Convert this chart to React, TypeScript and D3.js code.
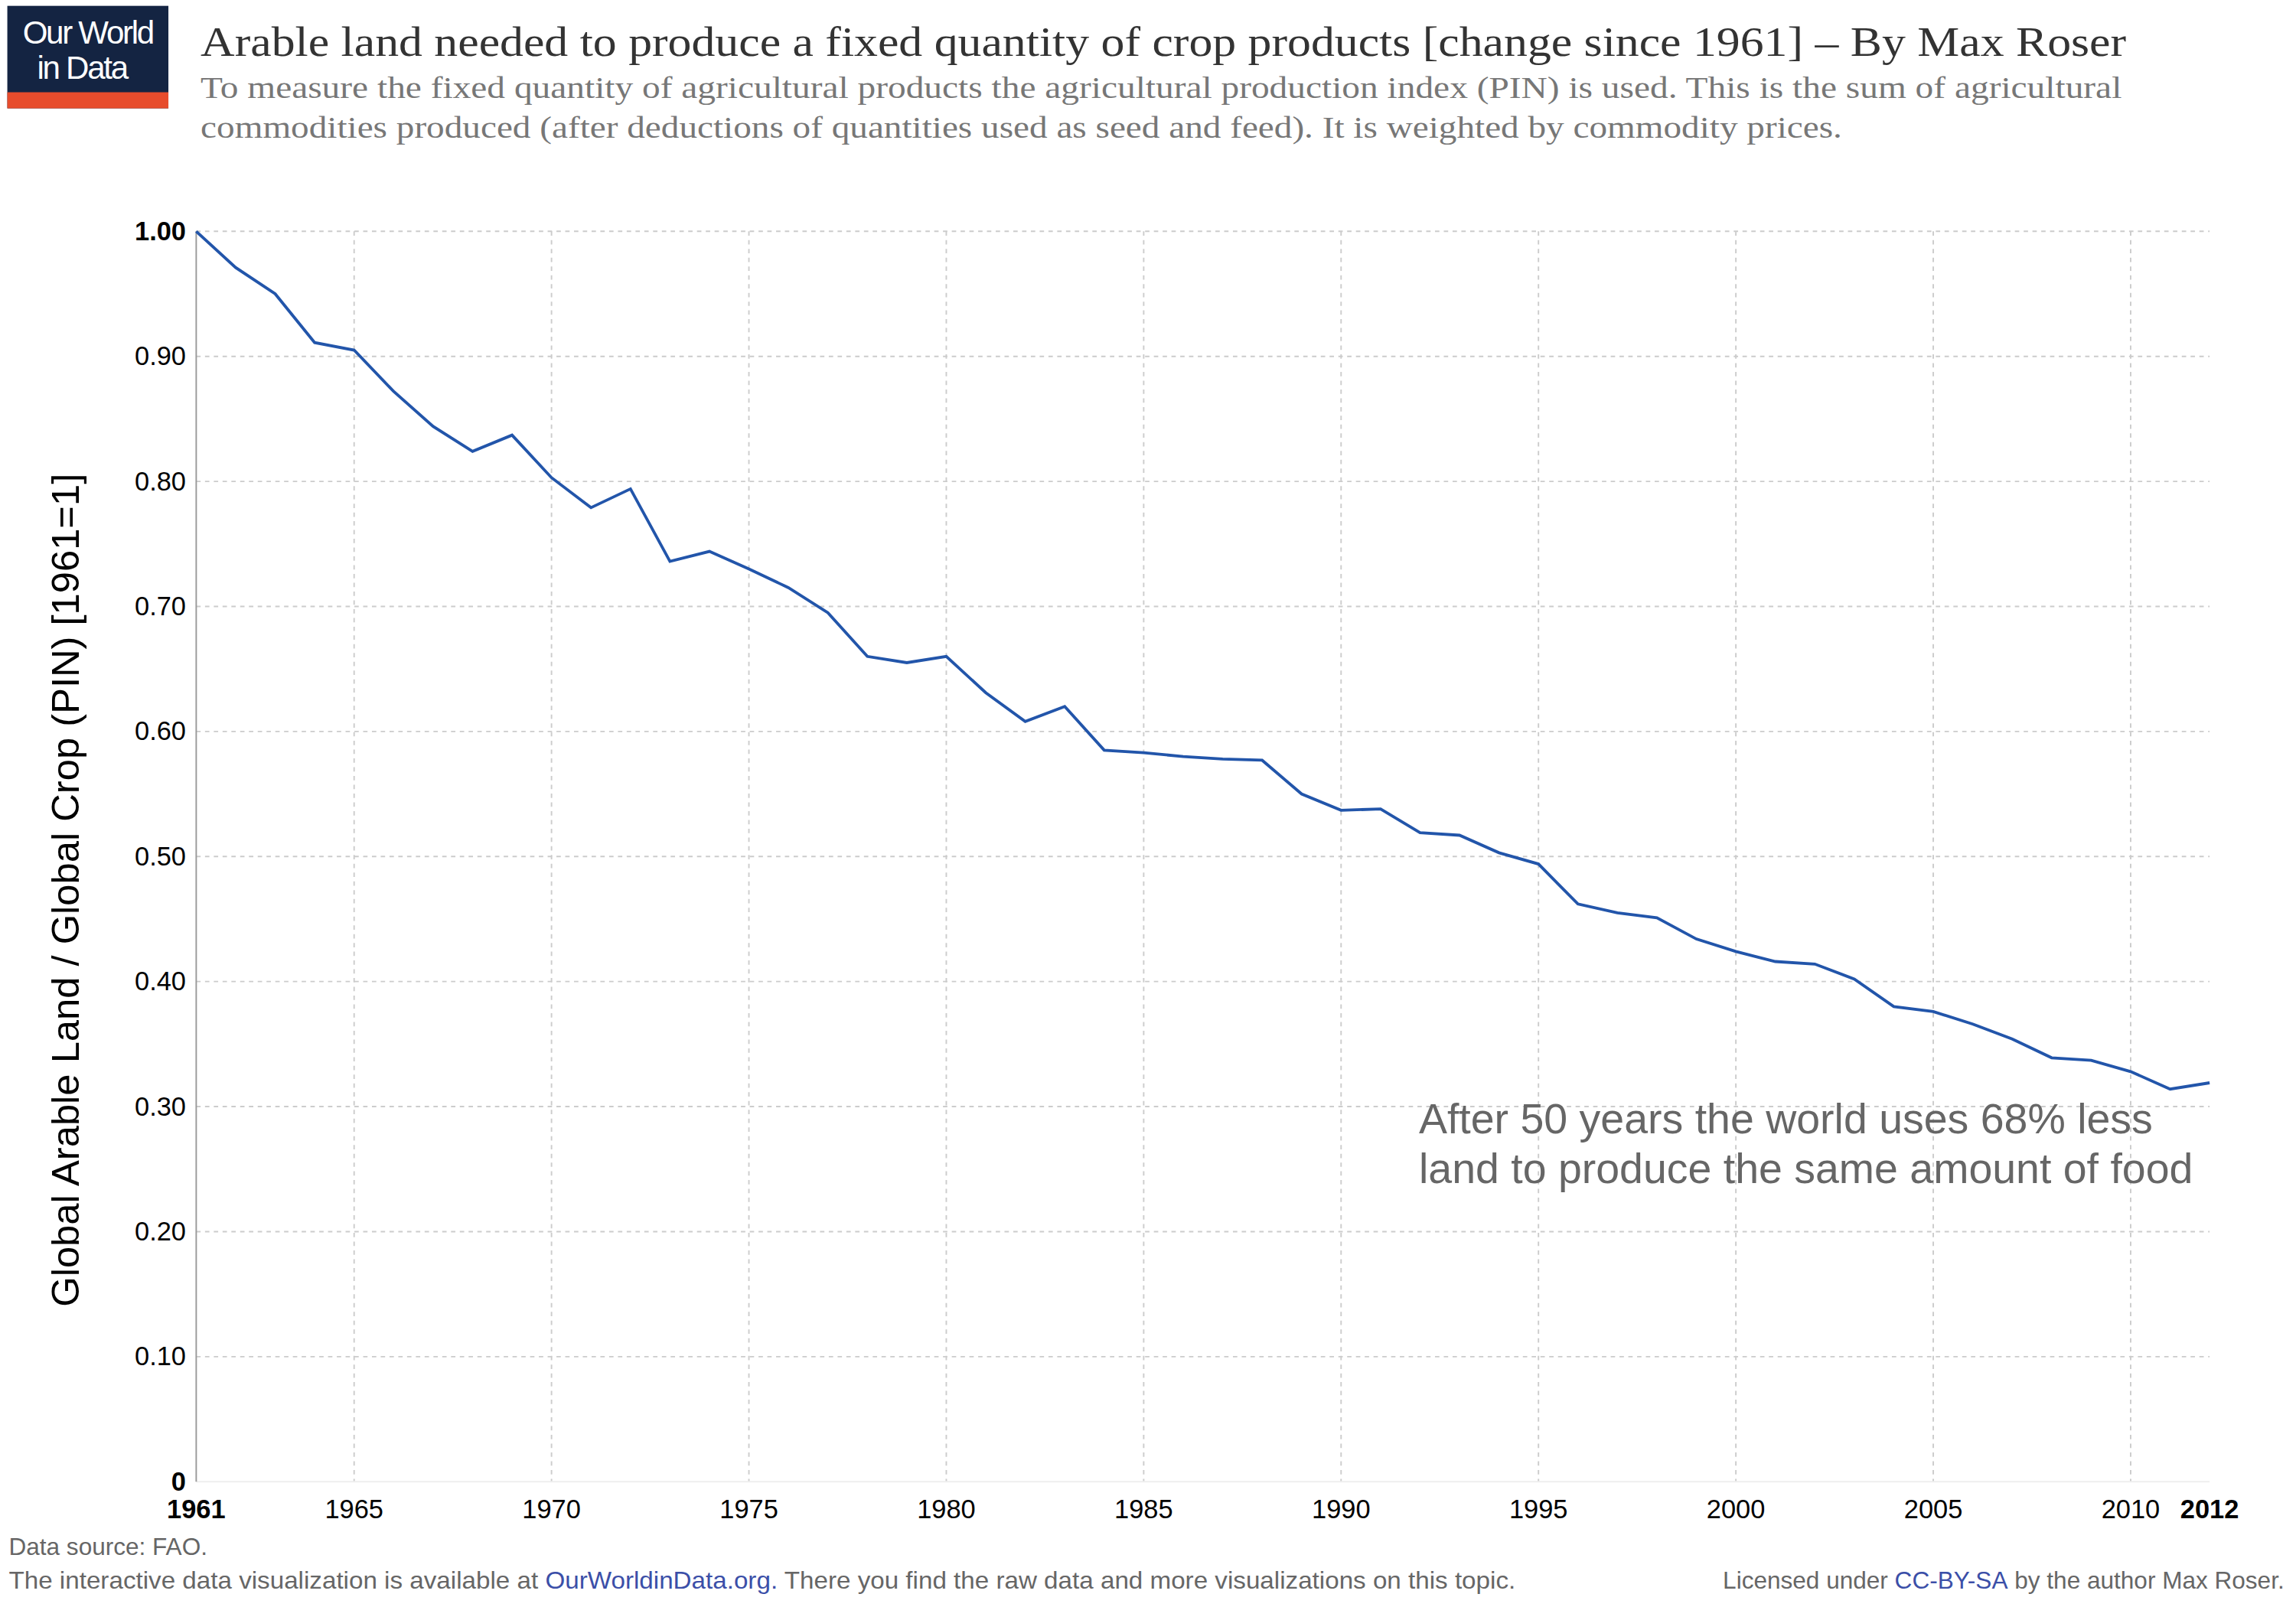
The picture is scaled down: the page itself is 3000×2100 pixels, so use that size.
import React from 'react';
import * as d3 from 'd3';

const years = d3.range(1961, 2013);
const values = [
  1.0, 0.971, 0.95, 0.911, 0.905, 0.872, 0.844, 0.824, 0.837, 0.803,
  0.779, 0.794, 0.736, 0.744, 0.73, 0.715, 0.695, 0.66, 0.655, 0.66,
  0.631, 0.608, 0.62, 0.585, 0.583, 0.58, 0.578, 0.577, 0.55, 0.537,
  0.538, 0.519, 0.517, 0.503, 0.494, 0.462, 0.455, 0.451, 0.434, 0.424,
  0.416, 0.414, 0.402, 0.38, 0.376, 0.366, 0.354, 0.339, 0.337, 0.328,
  0.314, 0.319,
];
const xTicks = [1961, 1965, 1970, 1975, 1980, 1985, 1990, 1995, 2000, 2005, 2010, 2012];
const yTicks = [0, 0.1, 0.2, 0.3, 0.4, 0.5, 0.6, 0.7, 0.8, 0.9, 1.0];

const W = 1568;
const H = 1097.6;
const sans = 'Liberation Sans, Arial, sans-serif';
const serif = 'Liberation Serif, Georgia, serif';

export default function App() {
  const x = d3.scaleLinear().domain([1961, 2012]).range([134, 1509]);
  const y = d3.scaleLinear().domain([0, 1]).range([1012, 158]);
  const line = d3.line<number>().x((_, i) => x(years[i])).y((d) => y(d));
  const bold = (t: number) => t === 1961 || t === 2012;

  return (
    <svg width={3000} height={2100} viewBox={`0 0 ${W} ${H}`}
      style={{ position: 'absolute', top: 0, left: 0, background: '#fff' }}>
      {/* logo */}
      <rect x={5} y={4} width={110} height={70} fill="#142442" />
      <rect x={5} y={63} width={110} height={11} fill="#e74c2c" />
      <text x={60} y={30} textAnchor="middle" fill="#fff" fontFamily={sans} fontSize={22} letterSpacing={-1.2}>Our World</text>
      <text x={56} y={54} textAnchor="middle" fill="#fff" fontFamily={sans} fontSize={22} letterSpacing={-1.2}>in Data</text>

      <text x={137} y={38} fill="#333" fontFamily={serif} fontSize={29} textLength={1315} lengthAdjust="spacingAndGlyphs">
        Arable land needed to produce a fixed quantity of crop products [change since 1961] – By Max Roser
      </text>
      <text x={137} y={67} fill="#777" fontFamily={serif} fontSize={21} textLength={1312} lengthAdjust="spacingAndGlyphs">
        To measure the fixed quantity of agricultural products the agricultural production index (PIN) is used. This is the sum of agricultural
      </text>
      <text x={137} y={94} fill="#777" fontFamily={serif} fontSize={21} textLength={1121} lengthAdjust="spacingAndGlyphs">
        commodities produced (after deductions of quantities used as seed and feed). It is weighted by commodity prices.
      </text>

      {/* grid */}
      {yTicks.filter((t) => t > 0).map((t) => (
        <line key={'gy' + t} x1={134} x2={1509} y1={y(t)} y2={y(t)} stroke="#ccc" strokeDasharray="3,3" />
      ))}
      {xTicks.filter((t) => t !== 1961 && t !== 2012).map((t) => (
        <line key={'gx' + t} x1={x(t)} x2={x(t)} y1={158} y2={1012} stroke="#ccc" strokeDasharray="3,3" />
      ))}
      <line x1={134} x2={1509} y1={1012} y2={1012} stroke="#eee" />
      <line x1={134} x2={134} y1={158} y2={1012} stroke="#999" />

      {yTicks.map((t) => (
        <text key={'ty' + t} x={127} y={y(t) + 6} textAnchor="end" fontFamily={sans} fontSize={18}
          fontWeight={t === 1 || t === 0 ? 'bold' : 'normal'} fill="#000">
          {t === 0 ? '0' : t.toFixed(2)}
        </text>
      ))}
      {xTicks.map((t) => (
        <text key={'tx' + t} x={x(t)} y={1037} textAnchor="middle" fontFamily={sans} fontSize={18}
          fontWeight={bold(t) ? 'bold' : 'normal'} fill="#000">{t}</text>
      ))}

      <text transform="translate(54,608) rotate(-90)" textAnchor="middle" fontFamily={sans} fontSize={26.5} fill="#000">
        Global Arable Land / Global Crop (PIN) [1961=1]
      </text>

      <path d={line(values) ?? ''} fill="none" stroke="#2255aa" strokeWidth={2} />

      <text x={969} y={774} fontFamily={sans} fontSize={29} fill="#666">After 50 years the world uses 68% less</text>
      <text x={969} y={808} fontFamily={sans} fontSize={29} fill="#666">land to produce the same amount of food</text>

      <text x={6} y={1062} fontFamily={sans} fontSize={16.5} fill="#666">Data source: FAO.</text>
      <text x={6} y={1085} fontFamily={sans} fontSize={16.5} fill="#666" textLength={1029} lengthAdjust="spacingAndGlyphs">
        The interactive data visualization is available at <tspan fill="#3b4fa8">OurWorldinData.org.</tspan> There you find the raw data and more visualizations on this topic.
      </text>
      <text x={1560} y={1085} textAnchor="end" fontFamily={sans} fontSize={16.5} fill="#666">
        Licensed under <tspan fill="#3b4fa8">CC-BY-SA</tspan> by the author Max Roser.
      </text>
    </svg>
  );
}
